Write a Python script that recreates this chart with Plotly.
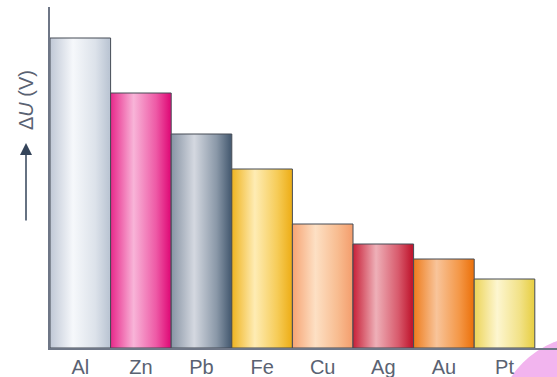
import plotly.graph_objects as go

metals = ["Al", "Zn", "Pb", "Fe", "Cu", "Ag", "Au", "Pt"]
delta_u = [310, 255, 214, 179, 124, 104, 89, 69]
# gradient colours per bar: left edge, highlight, mid, right edge
bar_colors = [
    ("#c0c8d6", "#f6f8fb", "#dce2ea", "#bcc6d4"),
    ("#e8288a", "#f8b4d8", "#ee5aa6", "#e0107a"),
    ("#8894a4", "#d4d8e0", "#8a98a8", "#4a5e74"),
    ("#f0b420", "#feecb4", "#f6cc58", "#eeb01c"),
    ("#f6a474", "#fde0c4", "#f8bc90", "#f4a070"),
    ("#c82038", "#eeb0b8", "#d85a6c", "#c01830"),
    ("#ee7c1c", "#f8c49a", "#f49848", "#ec7410"),
    ("#ecd458", "#fdf6d0", "#f2e288", "#e8d048"),
]

fig = go.Figure()
for i, (m, v, c) in enumerate(zip(metals, delta_u, bar_colors)):
    fig.add_trace(go.Scatter(
        x=[i - 0.5, i - 0.5, i + 0.5, i + 0.5, i - 0.5],
        y=[0, v, v, 0, 0],
        mode="lines",
        fill="toself",
        fillgradient=dict(type="horizontal",
                          colorscale=[[0, c[0]], [0.38, c[1]], [0.75, c[2]], [0.97, c[3]], [1, c[3]]]),
        line=dict(color="#454a54", width=1),
        name=m, hoverinfo="skip", showlegend=False,
    ))

W, H = 557, 377
ml, mr, mt, mb = 50, 0, 7, 29
pw, ph = W - ml - mr, H - mt - mb
unit = 60.6

def px_x(px):
    return (px - ml) / pw

def px_y(py):
    return (H - mb - py) / ph

fig.update_layout(
    width=W, height=H,
    margin=dict(l=ml, r=mr, t=mt, b=mb),
    paper_bgcolor="white", plot_bgcolor="white",
    font=dict(family="Arial", color="#5a6272"),
    xaxis=dict(range=[-0.5, -0.5 + pw / unit], tickvals=list(range(len(metals))), ticktext=metals,
               showgrid=False, zeroline=False, showline=True, linecolor="#6e7686", linewidth=1.5,
               ticks="", tickfont=dict(family="Arial", size=20, color="#5a6272"), fixedrange=True),
    yaxis=dict(range=[0, ph], showticklabels=False, showgrid=False, zeroline=False,
               showline=True, linecolor="#6e7686", linewidth=2, ticks="", fixedrange=True),
    shapes=[dict(type="circle", xref="paper", yref="paper",
                 x0=px_x(495), x1=px_x(685), y0=px_y(525), y1=px_y(335),
                 fillcolor="#f2b4ee", line=dict(width=0), layer="below")],
    annotations=[
        dict(text="Δ<i>U</i> (V)", xref="paper", yref="paper", x=px_x(26), y=px_y(100),
             textangle=-90, showarrow=False, font=dict(family="Arial", size=20, color="#5a6272"),
             xanchor="center", yanchor="middle"),
        dict(text="", xref="paper", yref="paper", x=px_x(26), y=px_y(143),
             ax=0, ay=79, showarrow=True, arrowhead=2, arrowsize=1.6, arrowwidth=1.5,
             arrowcolor="#34445a"),
    ],
)

fig.write_html("out.html")
